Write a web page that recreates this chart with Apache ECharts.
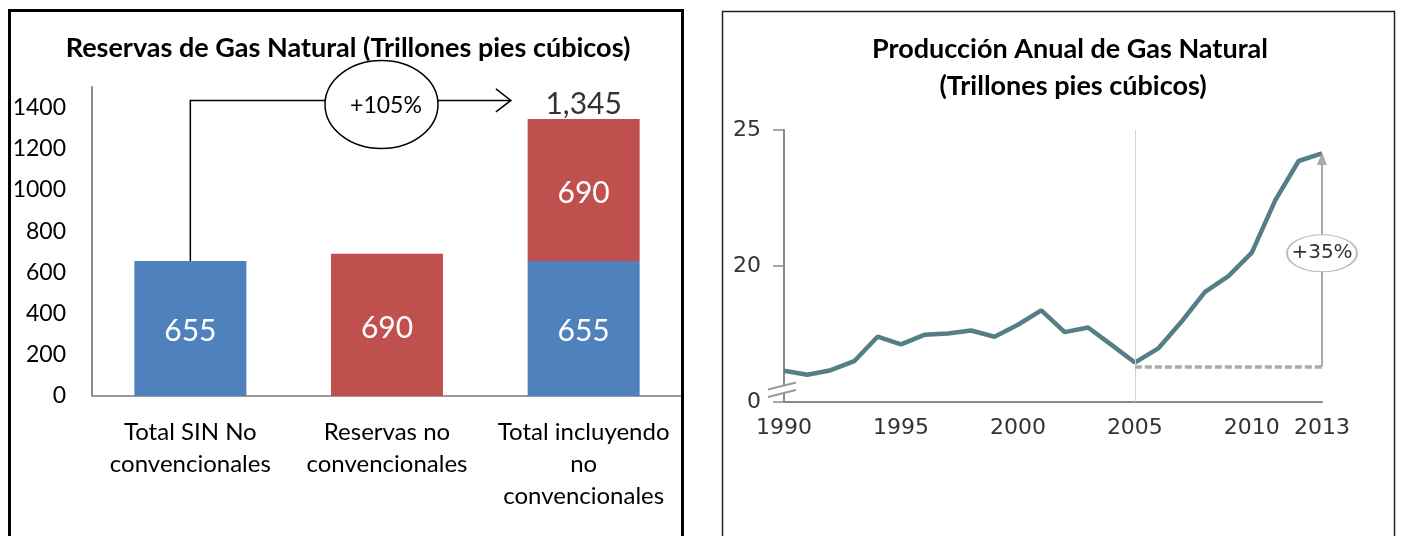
<!DOCTYPE html>
<html>
<head>
<meta charset="utf-8">
<script src="https://cdn.jsdelivr.net/npm/echarts@6/dist/echarts.min.js"></script>
<style>
  html, body { margin: 0; padding: 0; background: #fff; }
  #main { width: 1402px; height: 536px; }
</style>
</head>
<body>
<div id="main"></div>
<script>
// --- Reservas de gas natural (barras apiladas) ---
var categorias = ["Total SIN No\nconvencionales", "Reservas no\nconvencionales", "Total incluyendo\nno\nconvencionales"];
var convencionales = [655, "-", 655];
var noConvencionales = ["-", 690, 690];
var totalReservas = ["-", "-", 1345];

// --- Produccion anual de gas natural (linea) ---
var anios = ["1990", "1991", "1992", "1993", "1994", "1995", "1996", "1997", "1998", "1999", "2000", "2001",
  "2002", "2003", "2004", "2005", "2006", "2007", "2008", "2009", "2010", "2011", "2012", "2013"];
var produccion = [16.15, 16.0, 16.17, 16.5, 17.4, 17.12, 17.47, 17.52, 17.63, 17.4, 17.84, 18.37,
  17.57, 17.74, 17.1, 16.45, 16.97, 17.96, 19.05, 19.63, 20.49, 22.41, 23.86, 24.14];
var aniosEtiqueta = ["1990", "1995", "2000", "2005", "2010", "2013"];
var ticksProduccion = [15, 20, 25];
var etiquetasProduccion = ["0", "20", "25"];
var base2005 = 16.3;
var tope2013 = 23.95;

var myChart = echarts.init(document.getElementById("main"));

myChart.setOption({
  animation: false,
  grid: [
    { left: 92, top: 87, width: 590, height: 309 },
    { left: 784, top: 130, width: 538, height: 272 }
  ],
  xAxis: [
    {
      gridIndex: 0,
      type: "category",
      data: categorias,
      axisLine: { lineStyle: { color: "#999", width: 2 } },
      axisTick: { show: false },
      axisLabel: { interval: 0, margin: 20, color: "#000", fontSize: 24, lineHeight: 32, fontFamily: "Lato" }
    },
    {
      gridIndex: 1,
      type: "category",
      data: anios,
      boundaryGap: false,
      axisLine: { lineStyle: { color: "#8a8a8a", width: 2 } },
      axisTick: { show: false },
      axisLabel: {
        margin: 15,
        color: "#333",
        fontSize: 22,
        fontFamily: "DejaVu Sans",
        interval: function (i, v) { return aniosEtiqueta.indexOf(v) >= 0; }
      }
    }
  ],
  yAxis: [
    {
      gridIndex: 0,
      type: "value",
      min: 0,
      max: 1500,
      interval: 200,
      splitLine: { show: false },
      axisLine: { show: true, lineStyle: { color: "#8c8c8c", width: 2 } },
      axisTick: { show: false },
      axisLabel: {
        showMaxLabel: false, margin: 26, color: "#000", fontSize: 23, fontFamily: "Lato",
        formatter: function (v) { return String(v); }
      }
    },
    {
      gridIndex: 1,
      type: "value",
      min: 15,
      max: 25,
      interval: 5,
      splitLine: { show: false },
      axisLine: { show: true, lineStyle: { color: "#8a8a8a", width: 2 } },
      axisTick: { show: true, length: 11, lineStyle: { color: "#8a8a8a", width: 1.5 } },
      axisLabel: {
        margin: 23,
        color: "#333",
        fontSize: 22,
        fontFamily: "DejaVu Sans",
        formatter: function (v) {
          var i = ticksProduccion.indexOf(v);
          return i >= 0 ? etiquetasProduccion[i] : "";
        }
      }
    }
  ],
  series: [
    {
      name: "Convencionales",
      type: "bar",
      xAxisIndex: 0,
      yAxisIndex: 0,
      stack: "reservas",
      barWidth: 112,
      itemStyle: { color: "#4f81bd" },
      label: { show: true, position: "inside", offset: [0, 3], color: "#fff", fontSize: 30, fontFamily: "Lato" },
      data: convencionales
    },
    {
      name: "No convencionales",
      type: "bar",
      xAxisIndex: 0,
      yAxisIndex: 0,
      stack: "reservas",
      barWidth: 112,
      itemStyle: { color: "#c0504d" },
      label: { show: true, position: "inside", offset: [0, 3], color: "#fff", fontSize: 30, fontFamily: "Lato" },
      data: noConvencionales
    },
    {
      name: "Total",
      type: "scatter",
      xAxisIndex: 0,
      yAxisIndex: 0,
      symbolSize: 0,
      silent: true,
      z: 1,
      label: {
        show: true,
        position: "top",
        distance: 0,
        color: "#000",
        fontSize: 30,
        fontFamily: "Lato",
        formatter: function (p) { return p.value.toLocaleString("en-US"); }
      },
      data: totalReservas
    },
    {
      name: "Produccion",
      type: "line",
      xAxisIndex: 1,
      yAxisIndex: 1,
      symbol: "none",
      lineStyle: { color: "#557f86", width: 4.5 },
      data: produccion,
      markLine: {
        silent: true,
        symbol: ["none", "none"],
        label: { show: false },
        data: [
          { xAxis: "2005", lineStyle: { color: "#d4d4d4", width: 1, type: "solid" } },
          [
            { coord: ["2005", base2005], lineStyle: { color: "#aaa", width: 3.5, type: [7, 3] } },
            { coord: ["2013", base2005] }
          ],
          [
            { coord: ["2013", base2005], lineStyle: { color: "#aaa", width: 2, type: "solid" } },
            { coord: ["2013", tope2013], symbol: "triangle", symbolSize: [10, 13] }
          ]
        ]
      },
      markPoint: {
        z: 10,
        silent: true,
        data: [
          {
            coord: ["2013", 20.47],
            symbol: "circle",
            symbolSize: [70, 37],
            itemStyle: { color: "#fff", borderColor: "#bbb", borderWidth: 1.5 },
            label: { show: true, formatter: "+35%", color: "#333", fontSize: 20, fontFamily: "DejaVu Sans" }
          }
        ]
      }
    }
  ]
});

// anotaciones que dependen de la escala
var pBase = myChart.convertToPixel({ gridIndex: 0 }, [0, 655]);
var pTop = myChart.convertToPixel({ gridIndex: 0 }, [0, 1435]);
var pMid = myChart.convertToPixel({ gridIndex: 0 }, [1, 1415]);
var pRight = myChart.convertToPixel({ gridIndex: 0 }, [2, 1435]);
var xEnd = pMid[0] + (pRight[0] - pMid[0]) * 0.63;
var pCorte = myChart.convertToPixel({ gridIndex: 1 }, [0, 15]);
var cx = pCorte[0], cy = pCorte[1];

myChart.setOption({
  graphic: [
    // marcos
    { type: "rect", z: 100, shape: { x: 9.5, y: 10.5, width: 673, height: 600 },
      style: { fill: "none", stroke: "#000", lineWidth: 3 } },
    { type: "rect", z: 100, shape: { x: 722.5, y: 11.5, width: 672, height: 600 },
      style: { fill: "none", stroke: "#222", lineWidth: 1.5 } },
    // titulos
    { type: "text", z: 100, style: { text: "Reservas de Gas Natural (Trillones pies cúbicos)", x: 348, y: 48,
      align: "center", verticalAlign: "middle", font: "bold 27px Lato", fill: "#000" } },
    { type: "text", z: 100, style: { text: "Producción Anual de Gas Natural", x: 1070, y: 49,
      align: "center", verticalAlign: "middle", font: "bold 27px Lato", fill: "#000" } },
    { type: "text", z: 100, style: { text: "(Trillones pies cúbicos)", x: 1073, y: 86,
      align: "center", verticalAlign: "middle", font: "bold 27px Lato", fill: "#000" } },
    // flecha +105%
    { type: "polyline", z: 100, shape: { points: [[pBase[0], pBase[1]], [pTop[0], pTop[1]], [xEnd, pTop[1]]] },
      style: { fill: null, stroke: "#000", lineWidth: 1.5 } },
    { type: "polyline", z: 100, shape: { points: [[xEnd - 15, pTop[1] - 11.5], [xEnd, pTop[1]], [xEnd - 15, pTop[1] + 11.5]] },
      style: { fill: null, stroke: "#000", lineWidth: 1.5 } },
    { type: "ellipse", z: 101, shape: { cx: pMid[0] - 5.5, cy: pMid[1], rx: 56.5, ry: 44 },
      style: { fill: "#fff", stroke: "#000", lineWidth: 1.5 } },
    { type: "text", z: 102, style: { text: "+105%", x: pMid[0] - 1, y: pMid[1] + 1,
      align: "center", verticalAlign: "middle", font: "23px Lato", fill: "#000" } },
    // corte del eje
    { type: "polygon", z: 100, shape: { points: [[cx - 14, cy - 13], [cx + 12, cy - 20], [cx + 12, cy - 12], [cx - 14, cy - 5]] },
      style: { fill: "#fff" } },
    { type: "line", z: 101, shape: { x1: cx - 16, y1: cy - 12.5, x2: cx + 12, y2: cy - 19.5 },
      style: { stroke: "#999", lineWidth: 2 } },
    { type: "line", z: 101, shape: { x1: cx - 16, y1: cy - 5, x2: cx + 12, y2: cy - 12 },
      style: { stroke: "#999", lineWidth: 2 } }
  ]
});
</script>
</body>
</html>
